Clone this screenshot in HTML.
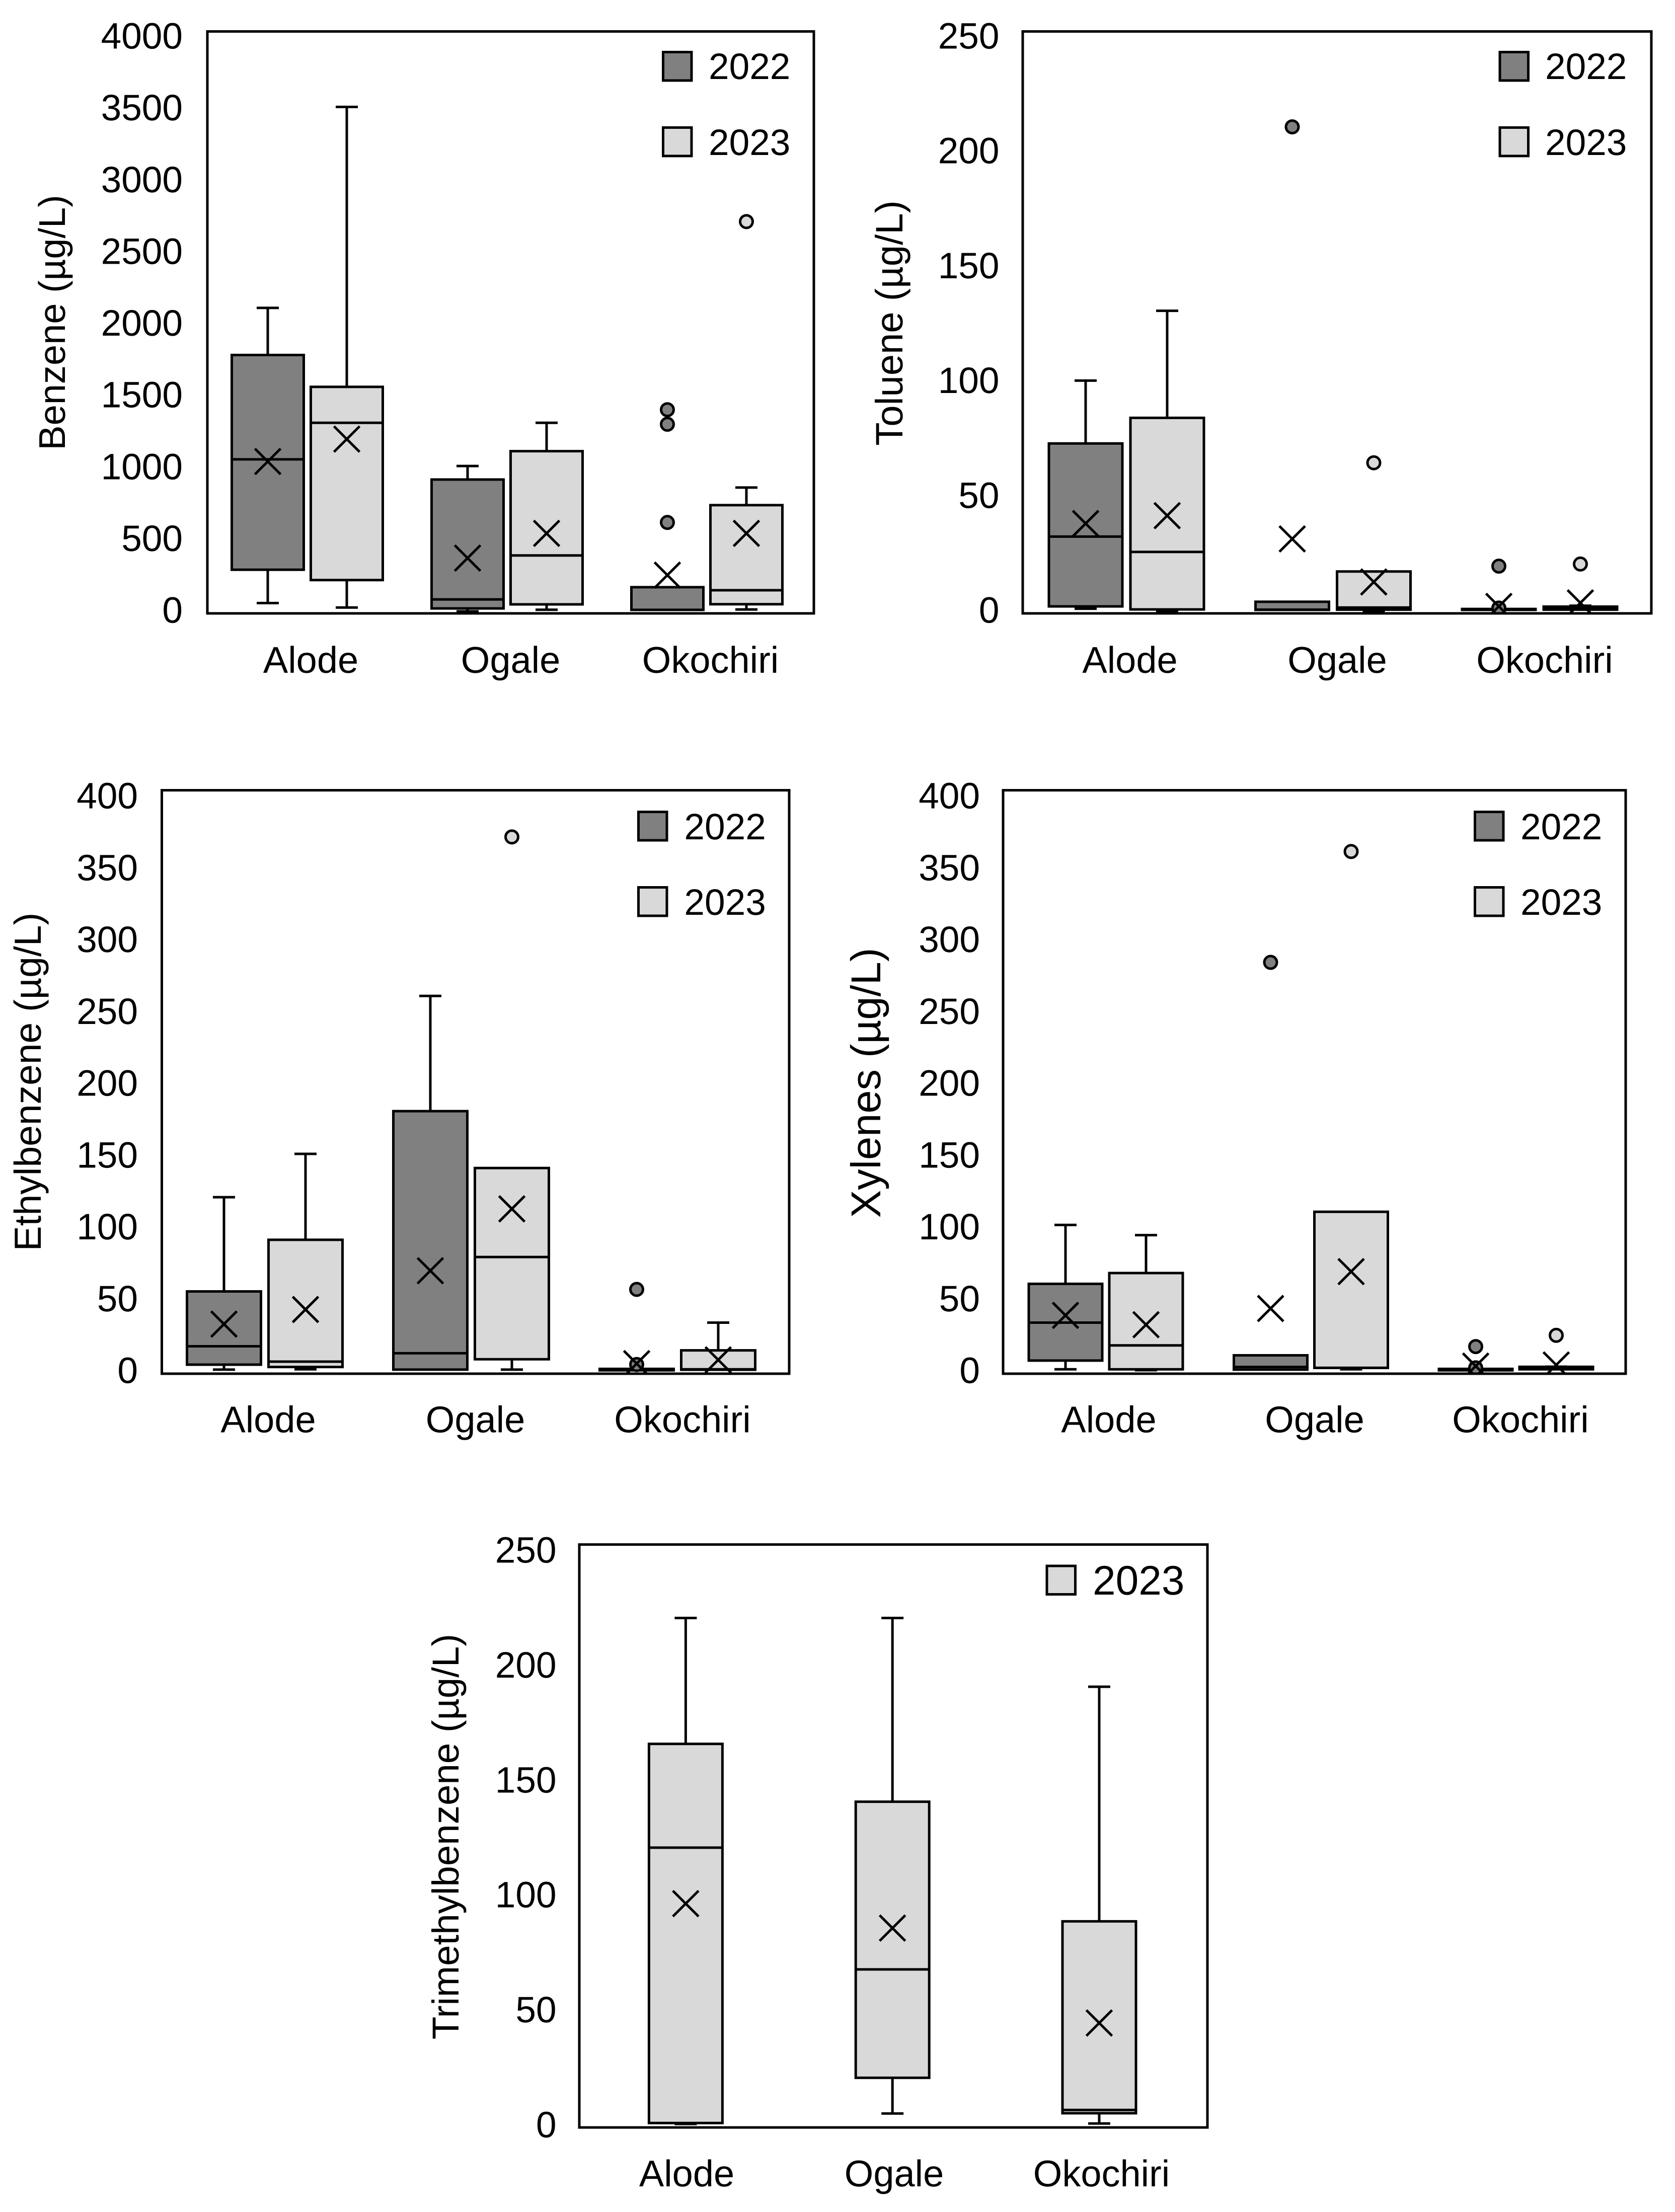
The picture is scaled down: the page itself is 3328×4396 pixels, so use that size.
<!DOCTYPE html>
<html lang="en">
<head>
<meta charset="utf-8">
<title>BTEX and trimethylbenzene box plots by site and year</title>
<style>
  html, body { margin: 0; padding: 0; background: #ffffff; }
  svg { display: block; }
  text { font-family: "Liberation Sans", Arial, sans-serif; fill: #000000; text-rendering: geometricPrecision; }
</style>
</head>
<body>
<svg id="figure" xmlns="http://www.w3.org/2000/svg" width="3328" height="4396" viewBox="0 0 3328 4396"></svg>
<script>
// ---------- Shared categories ----------
const categories = ["Alode", "Ogale", "Okochiri"];
const yearsBoth = ["2022", "2023"];
const yearsSingle = ["2023"];

// Every series array below is ordered per box, left to right.
// ---------- Benzene ----------
const benzeneTicks = ["0", "500", "1000", "1500", "2000", "2500", "3000", "3500", "4000"];
const benzeneHigh = [2100, 3481, 1013, 1310, 180, 865];
const benzeneQ3 = [1776, 1557, 920, 1115, 180, 744];
const benzeneMedian = [1059, 1310, 96, 398, 24, 159];
const benzeneQ1 = [300, 229, 34, 62, 24, 63];
const benzeneLow = [71, 40, 14, 25, 24, 27];
const benzeneMean = [1044, 1198, 380, 550, 263, 550];
const benzeneOutliers = [[], [], [], [], [1400, 1300, 625], [2693]];

// ---------- Toluene ----------
const tolueneTicks = ["0", "50", "100", "150", "200", "250"];
const tolueneHigh = [100, 130, 5, 18, 1.9, 3.3];
const tolueneQ3 = [73, 84, 5, 18, 1.9, 2.9];
const tolueneMedian = [33, 26.4, 1.6, 2.5, 1.7, 2.2];
const tolueneQ1 = [3, 1.7, 1.5, 1.6, 1.5, 1.6];
const tolueneLow = [2, 1, 1.5, 1, 1.5, 1.6];
const tolueneMean = [38.6, 42, 32, 13.5, 3, 4.5];
const tolueneOutliers = [[], [], [209], [64.7], [20.3, 2.3], [21.2]];

// ---------- Ethylbenzene ----------
const ethylbenzeneTicks = ["0", "50", "100", "150", "200", "250", "300", "350", "400"];
const ethylbenzeneHigh = [121, 150.7, 259, 141, 3.3, 35];
const ethylbenzeneQ3 = [56.4, 91.8, 180, 141, 3.3, 16];
const ethylbenzeneMedian = [18.8, 8.3, 14, 80, 2.8, 3];
const ethylbenzeneQ1 = [6.2, 4.6, 2.8, 9.9, 2.3, 2.7];
const ethylbenzeneLow = [2.8, 3, 2.8, 2.8, 2.3, 2.7];
const ethylbenzeneMean = [34, 44, 70.6, 113, 6.9, 9.5];
const ethylbenzeneOutliers = [[], [], [], [368], [57.8, 6.3], []];

// ---------- Xylenes ----------
const xylenesTicks = ["0", "50", "100", "150", "200", "250", "300", "350", "400"];
const xylenesHigh = [102, 95, 12.6, 111, 3.3, 4.8];
const xylenesQ3 = [61.6, 69, 12.6, 111, 3.3, 4.7];
const xylenesMedian = [35, 19.4, 4.6, 4, 2.8, 3.8];
const xylenesQ1 = [9, 3, 2.8, 4, 2.3, 3];
const xylenesLow = [3, 2.4, 2.8, 3, 2.3, 3];
const xylenesMean = [40, 33.6, 44.7, 70, 5.2, 6];
const xylenesOutliers = [[], [], [282], [358], [18.6, 4], [26.3]];

// ---------- Trimethylbenzene ----------
const trimethylbenzeneTicks = ["0", "50", "100", "150", "200", "250"];
const trimethylbenzeneHigh = [218.5, 218.5, 189];
const trimethylbenzeneQ3 = [164.5, 139.7, 88.4];
const trimethylbenzeneMedian = [120, 67.8, 7.5];
const trimethylbenzeneQ1 = [1.9, 21.3, 6.1];
const trimethylbenzeneLow = [1.5, 6, 1.7];
const trimethylbenzeneMean = [96, 85.5, 44.8];
const trimethylbenzeneOutliers = [[], [], []];

// ---------- Chart definitions (data references + layout) ----------
const LIGHT = "#d9d9d9";
const DARK = "#808080";
const STROKE = 5;

const charts = [
  { key: "benzene", title: "Benzene (µg/L)", ticks: benzeneTicks, years: yearsBoth,
    high: benzeneHigh, q3: benzeneQ3, median: benzeneMedian, q1: benzeneQ1, low: benzeneLow, mean: benzeneMean, outliers: benzeneOutliers,
    frame: { left: 412, right: 1617, top: 62.5, bottom: 1219 },
    group: { start: 610.5, band: 397, offset: 78.5, width: 143 },
    tickText: { right: 363, top: 70, bottom: 1211 },
    catText: { start: 617.5, band: 397, baseline: 1337 },
    titleText: { x: 129, y: 641, size: 74 },
    legend: { x: 1317.5, y: [103.5, 253.5], text: 1408, base: [157, 308], size: 73 } },
  { key: "toluene", title: "Toluene (µg/L)", ticks: tolueneTicks, years: yearsBoth,
    high: tolueneHigh, q3: tolueneQ3, median: tolueneMedian, q1: tolueneQ1, low: tolueneLow, mean: tolueneMean, outliers: tolueneOutliers,
    frame: { left: 2032, right: 3281, top: 62.5, bottom: 1219 },
    group: { start: 2238, band: 410.5, offset: 81, width: 146 },
    tickText: { right: 1985.5, top: 70, bottom: 1211 },
    catText: { start: 2245, band: 412, baseline: 1337 },
    titleText: { x: 1793, y: 642, size: 76 },
    legend: { x: 2980, y: [103.5, 253.5], text: 3070, base: [157, 308], size: 73 } },
  { key: "ethylbenzene", title: "Ethylbenzene (µg/L)", ticks: ethylbenzeneTicks, years: yearsBoth,
    high: ethylbenzeneHigh, q3: ethylbenzeneQ3, median: ethylbenzeneMedian, q1: ethylbenzeneQ1, low: ethylbenzeneLow, mean: ethylbenzeneMean, outliers: ethylbenzeneOutliers,
    frame: { left: 321.5, right: 1568, top: 1570.5, bottom: 2730 },
    group: { start: 526, band: 410, offset: 81, width: 147 },
    tickText: { right: 274, top: 1580, bottom: 2722 },
    catText: { start: 533, band: 411.5, baseline: 2846.5 },
    titleText: { x: 81, y: 2150, size: 75 },
    legend: { x: 1268.5, y: [1613.5, 1763.5], text: 1359.4, base: [1668, 1818], size: 73 } },
  { key: "xylenes", title: "Xylenes (µg/L)", ticks: xylenesTicks, years: yearsBoth,
    high: xylenesHigh, q3: xylenesQ3, median: xylenesMedian, q1: xylenesQ1, low: xylenesLow, mean: xylenesMean, outliers: xylenesOutliers,
    frame: { left: 1993, right: 3230, top: 1570.5, bottom: 2730 },
    group: { start: 2197, band: 407.5, offset: 80, width: 146 },
    tickText: { right: 1947, top: 1580, bottom: 2722 },
    catText: { start: 2203, band: 409, baseline: 2846.5 },
    titleText: { x: 1749, y: 2152, size: 83 },
    legend: { x: 2930.5, y: [1613.5, 1763.5], text: 3021, base: [1668, 1818], size: 73 } },
  { key: "trimethylbenzene", title: "Trimethylbenzene (µg/L)", ticks: trimethylbenzeneTicks, years: yearsSingle,
    high: trimethylbenzeneHigh, q3: trimethylbenzeneQ3, median: trimethylbenzeneMedian, q1: trimethylbenzeneQ1, low: trimethylbenzeneLow, mean: trimethylbenzeneMean, outliers: trimethylbenzeneOutliers,
    frame: { left: 1151, right: 2399, top: 3069.5, bottom: 4228 },
    group: { start: 1362.4, band: 410.8, offset: 0, width: 146 },
    tickText: { right: 1105.6, top: 3079, bottom: 4221 },
    catText: { start: 1364.5, band: 412, baseline: 4345 },
    titleText: { x: 911, y: 3650, size: 74.5 },
    legend: { x: 2080, y: [3112], text: 2171, base: [3169], size: 82 } }
];

// ---------- Drawing helpers ----------
const SVG_NS = "http://www.w3.org/2000/svg";

function addShape(parent, tag, attrs, name, interactable) {
  const el = document.createElementNS(SVG_NS, tag);
  for (const k in attrs) { el.setAttribute(k, attrs[k]); }
  
  
  parent.appendChild(el);
  return el;
}

function addText(parent, attrs, content, name) {
  const el = addShape(parent, "text", attrs, name, false);
  el.textContent = content;
  return el;
}

function drawChart(root, chart) {
  const f = chart.frame;
  const g = chart.group;
  const maxValue = Number(chart.ticks[chart.ticks.length - 1]);
  const seriesCount = chart.years.length;

  // axis functions
  const yScale = v => f.bottom - (v / maxValue) * (f.bottom - f.top);
  const xScale = (cat, ser) => g.start + cat * g.band + (seriesCount === 2 ? (ser === 0 ? -g.offset : g.offset) : 0);
  const tickY = v => chart.tickText.bottom - (v / maxValue) * (chart.tickText.bottom - chart.tickText.top);

  const panel = addShape(root, "g", {}, chart.key + "-chart", false);

  // clip for marks
  const defs = addShape(panel, "defs", {}, chart.key + "-defs", false);
  const clip = addShape(defs, "clipPath", { id: "clip-" + chart.key }, chart.key + "-plot-clip", false);
  addShape(clip, "rect", { x: f.left, y: f.top, width: f.right - f.left, height: f.bottom - f.top }, chart.key + "-plot-clip-area", false);

  // y tick labels
  const yAxis = addShape(panel, "g", {}, chart.key + "-y-axis", false);
  chart.ticks.forEach(t => {
    addText(yAxis, { x: chart.tickText.right, y: tickY(Number(t)) + 26.5, "text-anchor": "end", "font-size": 73 }, t, chart.key + "-y-tick-" + t);
  });

  // y title
  const tt = chart.titleText;
  addText(panel, { x: tt.x, y: tt.y, "text-anchor": "middle", "font-size": tt.size, transform: "rotate(-90 " + tt.x + " " + tt.y + ")" }, chart.title, chart.key + "-y-axis-title");

  // x category labels
  const xAxis = addShape(panel, "g", {}, chart.key + "-x-axis", false);
  categories.forEach((c, i) => {
    addText(xAxis, { x: chart.catText.start + i * chart.catText.band, y: chart.catText.baseline, "text-anchor": "middle", "font-size": 74 }, c, chart.key + "-x-label-" + c.toLowerCase());
  });

  // marks
  const marks = addShape(panel, "g", { "clip-path": "url(#clip-" + chart.key + ")" }, chart.key + "-plot-area", false);
  const lineStyle = { stroke: "#000", "stroke-width": STROKE, fill: "none" };
  let boxIndex = 0;
  categories.forEach((cat, ci) => {
    chart.years.forEach((year, si) => {
      const b = boxIndex++;
      const cx = xScale(ci, si);
      const fill = year === "2022" ? DARK : LIGHT;
      const base = chart.key + "-" + cat.toLowerCase() + "-" + year;
      const grp = addShape(marks, "g", {}, base + "-box-group", false);
      const yHigh = yScale(chart.high[b]);
      const yLow = yScale(chart.low[b]);
      const yQ3 = yScale(chart.q3[b]);
      const yQ1 = yScale(chart.q1[b]);
      const yMed = yScale(chart.median[b]);
      const left = cx - g.width / 2;
      const right = cx + g.width / 2;

      // whiskers and caps
      addShape(grp, "line", Object.assign({ x1: cx, x2: cx, y1: yHigh, y2: yQ3 }, lineStyle), base + "-upper-whisker", false);
      addShape(grp, "line", Object.assign({ x1: cx, x2: cx, y1: yQ1, y2: yLow }, lineStyle), base + "-lower-whisker", false);
      if (chart.high[b] > chart.q3[b]) {
        addShape(grp, "line", Object.assign({ x1: cx - 22, x2: cx + 22, y1: yHigh, y2: yHigh }, lineStyle), base + "-upper-cap", false);
      }
      if (chart.low[b] < chart.q1[b]) {
        addShape(grp, "line", Object.assign({ x1: cx - 22, x2: cx + 22, y1: yLow, y2: yLow }, lineStyle), base + "-lower-cap", false);
      }

      // box
      addShape(grp, "rect", { x: left, y: yQ3, width: g.width, height: Math.max(yQ1 - yQ3, 0.1), fill: fill, stroke: "#000", "stroke-width": STROKE }, base + "-box", false);
      addShape(grp, "line", Object.assign({ x1: left, x2: right, y1: yMed, y2: yMed }, lineStyle), base + "-median", false);

      // outliers
      chart.outliers[b].forEach((v, oi) => {
        addShape(grp, "circle", { cx: cx, cy: yScale(v), r: 12.5, fill: fill, stroke: "#000", "stroke-width": 5 }, base + "-outlier-" + (oi + 1), false);
      });

      // mean marker
      const ym = yScale(chart.mean[b]);
      const d = 25.5;
      addShape(grp, "path", Object.assign({ d: "M" + (cx - d) + " " + (ym - d) + "L" + (cx + d) + " " + (ym + d) + "M" + (cx - d) + " " + (ym + d) + "L" + (cx + d) + " " + (ym - d) }, lineStyle), base + "-mean-marker", false);
    });
  });

  // frame
  addShape(panel, "rect", { x: f.left, y: f.top, width: f.right - f.left, height: f.bottom - f.top, fill: "none", stroke: "#000", "stroke-width": STROKE }, chart.key + "-plot-frame", false);

  // legend
  const legend = addShape(panel, "g", {}, chart.key + "-legend", false);
  chart.years.forEach((year, i) => {
    addShape(legend, "rect", { x: chart.legend.x, y: chart.legend.y[i], width: 56.5, height: 56.5, fill: year === "2022" ? DARK : LIGHT, stroke: "#000", "stroke-width": STROKE }, chart.key + "-legend-swatch-" + year, false);
    addText(legend, { x: chart.legend.text, y: chart.legend.base[i], "font-size": chart.legend.size }, year, chart.key + "-legend-label-" + year);
  });
}

const figure = document.getElementById("figure");
charts.forEach(c => drawChart(figure, c));
</script>
</body>
</html>
